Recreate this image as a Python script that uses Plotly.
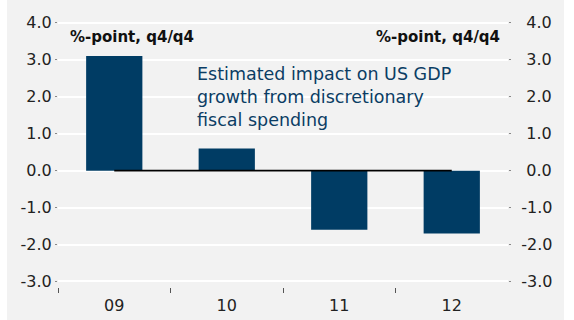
import plotly.graph_objects as go

categories = ["09", "10", "11", "12"]
impact = [3.1, 0.6, -1.6, -1.7]
zero_line = [0, 0, 0, 0]
y_ticks = [4, 3, 2, 1, 0, -1, -2, -3]
y_ticktext = ["4.0", "3.0", "2.0", "1.0", "0.0", "-1.0", "-2.0", "-3.0"]

xpos = list(range(len(categories)))
boundaries = [p - 0.5 for p in xpos]
# right-axis labels padded so that they line up on the right like the reference
y_ticktext_right = [t if t.startswith("-") else "\u00a0" + t for t in y_ticktext]

BG = "#f2f2f2"
NAVY = "#003c64"
FONT = "DejaVu Sans"

fig = go.Figure()
fig.add_trace(go.Bar(x=xpos, y=impact, marker=dict(color=NAVY, line=dict(width=0)),
                     width=0.5, showlegend=False))
fig.add_trace(go.Scatter(x=xpos, y=zero_line, mode="lines",
                         line=dict(color="black", width=1.6), showlegend=False))
fig.add_trace(go.Scatter(x=[xpos[0]], y=[0], yaxis="y2", mode="markers",
                         marker=dict(opacity=0), showlegend=False, hoverinfo="skip"))

yr = [-3.15, 4.05]
fig.update_layout(
    width=574, height=320,
    margin=dict(l=58, r=66, t=21, b=33),
    paper_bgcolor="white", plot_bgcolor=BG,
    font=dict(family=FONT, size=16, color="#222222"),
    xaxis=dict(range=[-0.5, 3.5], tickmode="array", tickvals=xpos, ticktext=categories,
               ticks="", showgrid=False, zeroline=False, showline=False,
               ticklabelstandoff=7, automargin=False,
               tickfont=dict(size=16, color="#222222"),
               minor=dict(tickmode="array", tickvals=boundaries, ticks="outside",
                          ticklen=5, tickwidth=1, tickcolor="#555555", showgrid=False)),
    yaxis=dict(range=yr, tickmode="array", tickvals=y_ticks, ticktext=y_ticktext,
               showgrid=True, gridcolor="white", gridwidth=2, zeroline=False,
               ticks="outside", ticklen=2, tickcolor="#888888", automargin=False,
               tickfont=dict(size=16, color="#222222"), fixedrange=True),
    yaxis2=dict(range=yr, overlaying="y", side="right", tickmode="array",
                tickvals=y_ticks, ticktext=y_ticktext_right, showgrid=False, zeroline=False,
                ticks="outside", ticklen=2, tickcolor="#888888", ticklabelstandoff=7,
                automargin=False,
                tickfont=dict(size=16, color="#222222")),
    shapes=[dict(type="rect", xref="paper", yref="paper",
                 x0=-0.1133, x1=1.1244, y0=-0.126, y1=1.08,
                 fillcolor=BG, line=dict(width=0), layer="below")],
    annotations=[
        dict(text="<b>%-point, q4/q4</b>", xref="paper", yref="paper", x=0.022, y=0.939,
             xanchor="left", yanchor="middle", showarrow=False,
             font=dict(size=15, color="#111111", family=FONT)),
        dict(text="<b>%-point, q4/q4</b>", xref="paper", yref="paper", x=0.987, y=0.939,
             xanchor="right", yanchor="middle", showarrow=False,
             font=dict(size=15, color="#111111", family=FONT)),
        dict(text="Estimated impact on US GDP<br>growth from discretionary<br>fiscal spending",
             xref="paper", yref="paper", x=0.304, y=0.845, xanchor="left", yanchor="top",
             align="left", showarrow=False,
             font=dict(size=17.5, color="#0b3d64", family=FONT)),
    ],
)

fig.write_html("out.html")
